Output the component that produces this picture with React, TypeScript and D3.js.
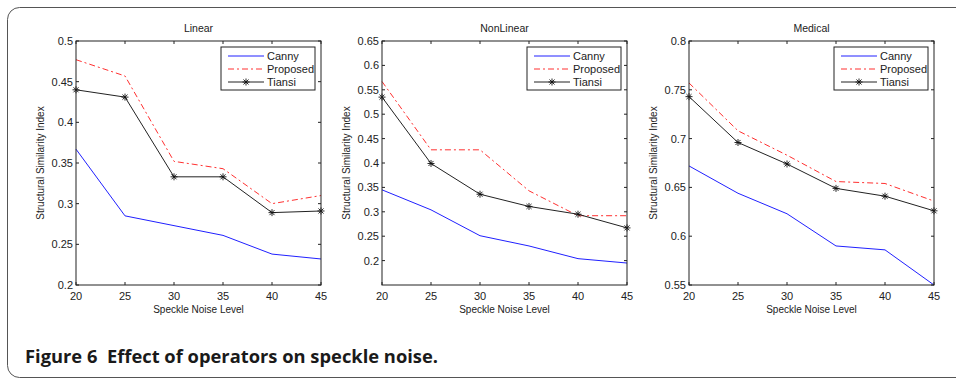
import React from "react";
import * as d3 from "d3";

// noise levels on the x axis
const noiseLevels = [20, 25, 30, 35, 40, 45];

const seriesNames = ["Canny", "Proposed", "Tiansi"];

// Linear
const linearCanny = [0.367, 0.285, 0.273, 0.261, 0.238, 0.232];
const linearProposed = [0.477, 0.457, 0.352, 0.343, 0.3, 0.31];
const linearTiansi = [0.44, 0.431, 0.333, 0.333, 0.289, 0.291];

// NonLinear
const nonLinearCanny = [0.345, 0.304, 0.251, 0.23, 0.204, 0.195];
const nonLinearProposed = [0.567, 0.427, 0.427, 0.343, 0.292, 0.292];
const nonLinearTiansi = [0.535, 0.399, 0.336, 0.311, 0.295, 0.267];

// Medical
const medicalCanny = [0.672, 0.644, 0.623, 0.59, 0.586, 0.55];
const medicalProposed = [0.757, 0.708, 0.683, 0.656, 0.654, 0.636];
const medicalTiansi = [0.743, 0.696, 0.674, 0.649, 0.641, 0.626];

const linearTicks = [0.2, 0.25, 0.3, 0.35, 0.4, 0.45, 0.5];
const nonLinearTicks = [0.2, 0.25, 0.3, 0.35, 0.4, 0.45, 0.5, 0.55, 0.6, 0.65];
const medicalTicks = [0.55, 0.6, 0.65, 0.7, 0.75, 0.8];

const panels = [
  { title: "Linear", left: 76, right: 321, domain: [0.2, 0.5], ticks: linearTicks, values: [linearCanny, linearProposed, linearTiansi], labelX: 40 },
  { title: "NonLinear", left: 382, right: 627, domain: [0.15, 0.65], ticks: nonLinearTicks, values: [nonLinearCanny, nonLinearProposed, nonLinearTiansi], labelX: 346 },
  { title: "Medical", left: 689, right: 934, domain: [0.55, 0.8], ticks: medicalTicks, values: [medicalCanny, medicalProposed, medicalTiansi], labelX: 653 },
];

const top = 41;
const bottom = 285;
const font = "'Liberation Sans', Arial, sans-serif";
const axisColor = "#222";

const styles = [
  { stroke: "#2020ff", dash: undefined as string | undefined },
  { stroke: "#ff3030", dash: "6,3,2,3" },
  { stroke: "#222", dash: undefined as string | undefined },
];

function Star({ x, y }: { x: number; y: number }) {
  const r = 3.5;
  const d = r * 0.72;
  return (
    <g stroke="#111" strokeWidth={0.9}>
      <line x1={x - r} y1={y} x2={x + r} y2={y} />
      <line x1={x} y1={y - r} x2={x} y2={y + r} />
      <line x1={x - d} y1={y - d} x2={x + d} y2={y + d} />
      <line x1={x - d} y1={y + d} x2={x + d} y2={y - d} />
    </g>
  );
}

function Panel({ p }: { p: (typeof panels)[number] }) {
  const x = d3.scaleLinear().domain([20, 45]).range([p.left, p.right]);
  const y = d3.scaleLinear().domain(p.domain).range([bottom, top]);
  const line = d3
    .line<number>()
    .x((_, i) => x(noiseLevels[i]))
    .y((v) => y(v));
  const fmt = (v: number) => String(+v.toFixed(2));
  const tl = 3;

  // legend box, top right inside the axes
  const lx = p.right - 100;
  const ly = top + 6;

  return (
    <g>
      <text x={(p.left + p.right) / 2} y={32} textAnchor="middle" fontSize={10.5} fill="#222">
        {p.title}
      </text>

      {p.values.map((vals, si) => (
        <path
          key={si}
          d={line(vals) || ""}
          fill="none"
          stroke={styles[si].stroke}
          strokeWidth={1}
          strokeDasharray={styles[si].dash}
        />
      ))}
      {p.values[2].map((v, i) => (
        <Star key={i} x={x(noiseLevels[i])} y={y(v)} />
      ))}

      <rect x={p.left} y={top} width={p.right - p.left} height={bottom - top} fill="none" stroke={axisColor} strokeWidth={1} />

      {noiseLevels.map((t) => (
        <g key={t}>
          <line x1={x(t)} x2={x(t)} y1={bottom} y2={bottom - tl} stroke={axisColor} />
          <line x1={x(t)} x2={x(t)} y1={top} y2={top + tl} stroke={axisColor} />
          <text x={x(t)} y={300} textAnchor="middle" fontSize={11} fill="#222">
            {t}
          </text>
        </g>
      ))}
      {p.ticks.map((t) => (
        <g key={t}>
          <line x1={p.left} x2={p.left + tl} y1={y(t)} y2={y(t)} stroke={axisColor} />
          <line x1={p.right} x2={p.right - tl} y1={y(t)} y2={y(t)} stroke={axisColor} />
          <text x={p.left - 3} y={y(t) + 4} textAnchor="end" fontSize={11} fill="#222">
            {fmt(t)}
          </text>
        </g>
      ))}

      <text x={(p.left + p.right) / 2} y={313} textAnchor="middle" fontSize={10} fill="#222">
        Speckle Noise Level
      </text>
      <text
        transform={`translate(${p.labelX},${(top + bottom) / 2}) rotate(-90)`}
        textAnchor="middle"
        dy="0.35em"
        fontSize={10}
        fill="#222"
      >
        Structural Similarity Index
      </text>

      <rect x={lx} y={ly} width={94} height={43} fill="#fff" stroke={axisColor} strokeWidth={1} />
      {seriesNames.map((name, si) => {
        const ry = ly + 9 + si * 13;
        return (
          <g key={name}>
            <line x1={lx + 7} x2={lx + 43} y1={ry} y2={ry} stroke={styles[si].stroke} strokeDasharray={styles[si].dash} />
            {si === 2 && <Star x={lx + 25} y={ry} />}
            <text x={lx + 46} y={ry + 4} fontSize={11} fill="#222">
              {name}
            </text>
          </g>
        );
      })}
    </g>
  );
}

export default function App() {
  return (
    <div style={{ position: "fixed", left: 0, top: 0 }}>
      <svg width={956} height={380} style={{ display: "block", fontFamily: font }}>
        <rect width={956} height={380} fill="#fff" />
        <rect x={7.5} y={7.5} width={980} height={370} rx={12} fill="none" stroke="#555" strokeWidth={1} />
        {panels.map((p) => (
          <Panel key={p.title} p={p} />
        ))}
        <text
          x={25}
          y={363}
          fontSize={18}
          fontWeight={700}
          fill="#1a1a1a"
          style={{ fontFamily: "'Open Sans', 'Noto Sans', sans-serif" }}
          textLength={413}
          lengthAdjust="spacingAndGlyphs"
        >
          Figure 6{"\u00a0\u00a0"}Effect of operators on speckle noise.
        </text>
      </svg>
    </div>
  );
}
